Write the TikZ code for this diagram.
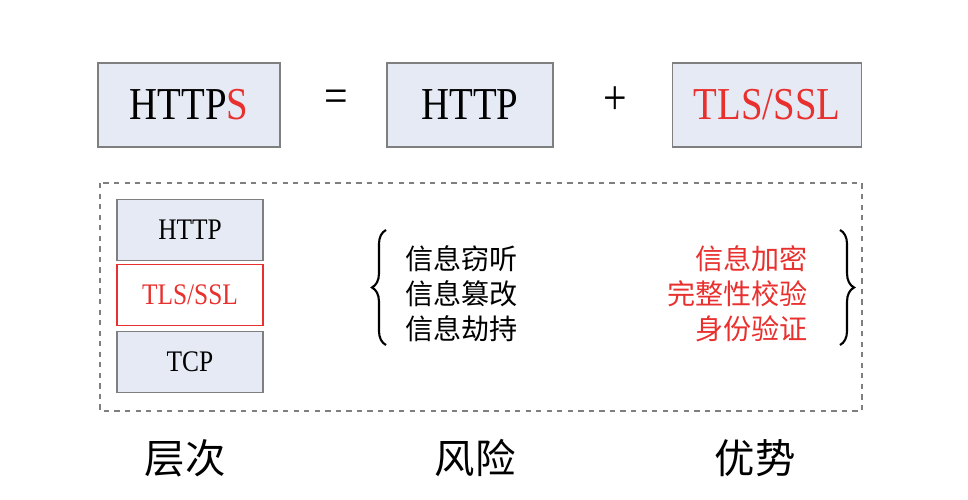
\documentclass[tikz,border=0pt]{standalone}
\usepackage{fontspec}
\setmainfont[FakeStretch=0.85]{Liberation Serif}
\newfontfamily\cjk{Noto Sans CJK SC}
\usetikzlibrary{decorations.pathreplacing}
\definecolor{boxfill}{HTML}{E6EAF5}
\definecolor{boxline}{HTML}{7F7F7F}
\definecolor{myred}{HTML}{E8312F}
\begin{document}
\begin{tikzpicture}[x=0.02cm,y=-0.02cm,
  bigbox/.style={draw=boxline,fill=boxfill,line width=1pt,font=\fontsize{26}{28}\selectfont,inner sep=0pt},
  layer/.style={draw=boxline,fill=boxfill,line width=0.8pt,font=\fontsize{17}{18}\selectfont,inner sep=0pt,minimum width=146*0.02cm,minimum height=61*0.02cm},
  cn/.style={font=\cjk\fontsize{16}{20}\selectfont,align=left,inner sep=0pt},
  lab/.style={font=\cjk\fontsize{23}{26}\selectfont,inner sep=0pt}]
\useasboundingbox (0,0) rectangle (968,500);
\node[bigbox,minimum width=182*0.02cm,minimum height=84*0.02cm] (https) at (189,105) {HTTP\textcolor{myred}{S}};
\node[font=\fontsize{28}{30}\selectfont] (eq) at (336,101) {=};
\node[bigbox,minimum width=166*0.02cm,minimum height=84*0.02cm] (http) at (470,105) {HTTP};
\node[font=\fontsize{28}{30}\selectfont] (plus) at (615,101) {+};
\node[bigbox,minimum width=189*0.02cm,minimum height=84*0.02cm,text=myred] (tls) at (767,105) {TLS/SSL};
\draw[boxline,dashed,line width=0.8pt] (100,183) rectangle (862,411);
\node[layer] (l1) at (190,230) {HTTP};
\node[layer,draw=myred,fill=white,text=myred] (l2) at (190,295) {TLS/SSL};
\node[layer] (l3) at (190,362) {TCP};
\node[cn,anchor=west] (risk) at (405,294) {信息窃听\\信息篡改\\信息劫持};
\node[cn,anchor=east,align=right,text=myred] (adv) at (808,294) {信息加密\\完整性校验\\身份验证};
\draw[decorate,decoration={brace,amplitude=8pt},line width=1.2pt] (386,345) -- (386,230);
\draw[decorate,decoration={brace,amplitude=8pt},line width=1.2pt] (840,230) -- (840,345);
\node[lab] (a) at (185,458) {层次};
\node[lab] (b) at (475,458) {风险};
\node[lab] (c) at (755,458) {优势};
\end{tikzpicture}
\end{document}
